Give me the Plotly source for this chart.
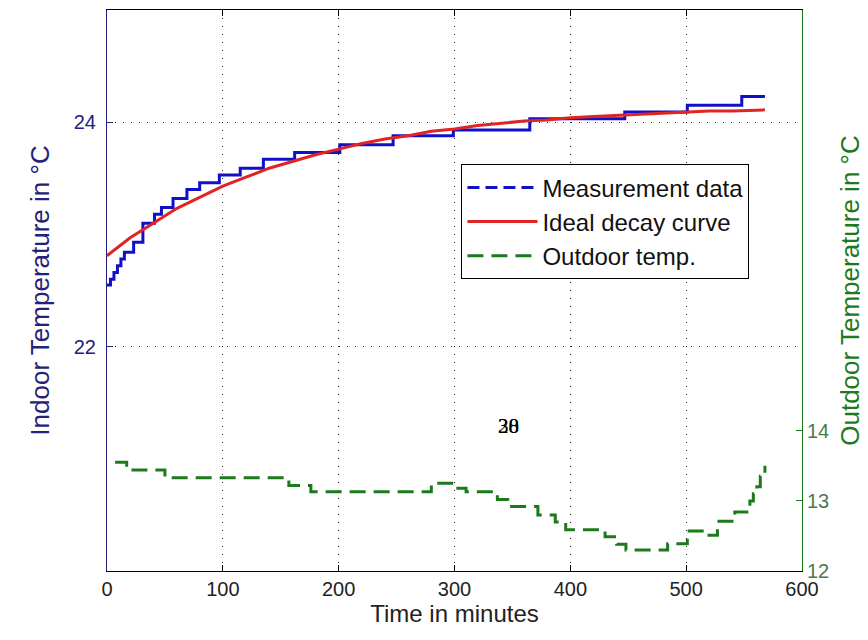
import plotly.graph_objects as go

# values
# measurement data (indoor, stepped), time in minutes / degC
t_meas = [0, 3, 6, 9, 12, 15, 23, 31, 41, 47, 57, 69, 80, 97, 115, 135, 162,
          201, 247, 299, 365, 447, 501, 548, 568]
v_meas = [22.55, 22.6, 22.66, 22.72, 22.78, 22.84, 22.93, 23.10, 23.18, 23.24,
          23.32, 23.40, 23.46, 23.53, 23.59, 23.67, 23.73, 23.80, 23.88, 23.93,
          24.03, 24.09, 24.15, 24.23, 24.23]

# ideal decay curve (indoor)
t_ideal = [0, 20, 40, 60, 80, 100, 120, 140, 160, 180, 200, 220, 240, 260, 280,
           300, 320, 340, 360, 380, 400, 420, 440, 460, 480, 500, 520, 540, 560, 568]
v_ideal = [22.81, 22.97, 23.10, 23.23, 23.33, 23.43, 23.51, 23.59, 23.65, 23.71,
           23.76, 23.81, 23.85, 23.88, 23.92, 23.94, 23.97, 23.99, 24.01, 24.02,
           24.04, 24.05, 24.06, 24.07, 24.08, 24.09, 24.10, 24.10, 24.11, 24.11]

# outdoor temperature (right axis, stepped)
t_out = [7, 17, 50, 157, 176, 280, 301, 310, 337, 346, 372, 387, 396, 430, 440,
         448, 484, 501, 516, 527, 542, 555, 558, 561, 564, 568]
v_out = [13.55, 13.44, 13.33, 13.22, 13.13, 13.25, 13.18, 13.13, 13.02, 12.92,
         12.80, 12.70, 12.59, 12.49, 12.38, 12.30, 12.39, 12.57, 12.51, 12.71,
         12.84, 13.0, 13.1, 13.2, 13.35, 13.5]

x_ticks = [0, 100, 200, 300, 400, 500, 600]
y_ticks = [22, 24]
y2_ticks = [12, 13, 14]
labels_mid = ["28", "30"]

NAVY = "#22227a"
BLUE = "#1010c8"
RED = "#e02424"
GREEN = "#1c7a1c"
FONT = "Liberation Sans"
grid = dict(showgrid=True, gridcolor="#222", gridwidth=1, griddash="1px,7px")

fig = go.Figure()
# legend entry only (dashed like the reference legend)
fig.add_trace(go.Scatter(x=[None], y=[None], mode="lines", name="Measurement data",
                         legendgroup="a",
                         line=dict(color=BLUE, width=3, dash="12px,6px")))
fig.add_trace(go.Scatter(x=t_meas, y=v_meas, mode="lines", showlegend=False,
                         legendgroup="a",
                         line=dict(color=BLUE, width=3, shape="hv")))
fig.add_trace(go.Scatter(x=t_ideal, y=v_ideal, mode="lines", name="Ideal decay curve",
                         legendgroup="b",
                         line=dict(color=RED, width=3)))
fig.add_trace(go.Scatter(x=t_out, y=v_out, mode="lines", name="Outdoor temp.",
                         yaxis="y2", legendgroup="c",
                         line=dict(color=GREEN, width=3, shape="hv", dash="16px,8px")))

for lab in labels_mid:
    fig.add_annotation(x=347, y=21.29, xref="x", yref="y", text=lab, showarrow=False,
                       font=dict(family="Liberation Serif", size=21, color="black"))

# the page body adds 8px on the left/top, so the figure is 8px smaller
fig.update_layout(
    width=860, height=632,
    margin=dict(l=99, r=66, t=2, b=69),
    paper_bgcolor="white", plot_bgcolor="white",
    font=dict(family=FONT, size=20, color="#222"),
    legend=dict(x=0.51, y=0.725, xanchor="left", yanchor="top",
                bgcolor="white", bordercolor="black", borderwidth=1,
                itemwidth=70, font=dict(size=24, color="#111"),
                traceorder="grouped", tracegroupgap=0),
    xaxis=dict(range=[0, 600], tickvals=x_ticks, ticks="inside", ticklen=6,
               tickcolor="black", showline=True, linecolor="black", linewidth=1,
               mirror="ticks", zeroline=False,
               title=dict(text="Time in minutes", standoff=4), **grid),
    yaxis=dict(range=[20, 25], tickvals=y_ticks, ticks="inside", ticklen=6,
               tickcolor=NAVY, showline=True, linecolor=NAVY, linewidth=1,
               zeroline=False, tickfont=dict(color=NAVY), ticklabelstandoff=6,
               title=dict(text="Indoor Temperature in °C",
                          font=dict(color=NAVY, size=26), standoff=16), **grid),
    yaxis2=dict(range=[12, 20], tickvals=y2_ticks, overlaying="y", side="right",
                ticks="inside", ticklen=6, tickcolor=GREEN, showline=True,
                linecolor=GREEN, linewidth=1, showgrid=False, zeroline=False,
                tickfont=dict(color="#4a7a4a"),
                title=dict(text="Outdoor Temperature in °C",
                           font=dict(color=GREEN, size=26), standoff=12)),
)

fig.write_html("out.html")
